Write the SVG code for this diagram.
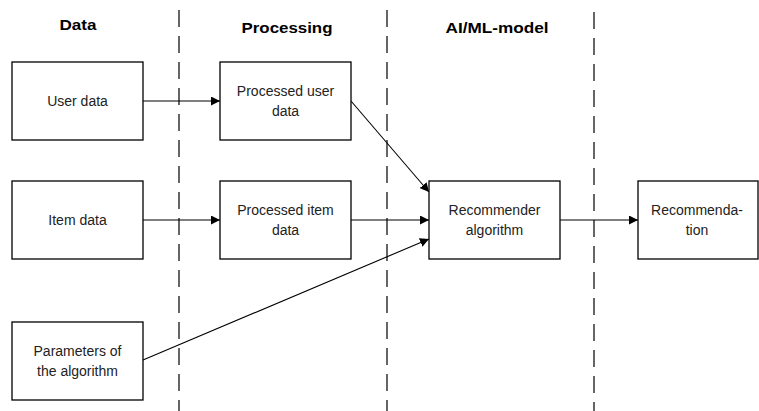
<svg xmlns="http://www.w3.org/2000/svg" width="759" height="411" viewBox="0 0 759 411">
<style>
.box{fill:#fff;stroke:#000;stroke-width:1.3}
.t{font-family:"Liberation Sans",Arial,sans-serif;font-size:14px;fill:#222;text-anchor:middle}
.h{font-family:"Liberation Sans",Arial,sans-serif;font-size:15px;font-weight:bold;fill:#000;text-anchor:middle}
.dash{stroke:#000;stroke-width:1.2;stroke-dasharray:17 9;fill:none}
.c{stroke:#000;stroke-width:1.1;fill:none;marker-end:url(#arr)}
</style>
<defs>
<marker id="arr" viewBox="0 0 10 10" refX="10" refY="5" markerWidth="9" markerHeight="9" markerUnits="userSpaceOnUse" orient="auto">
<path d="M0,0 L10,5 L0,10 z" fill="#000"/>
</marker>
</defs>
<g id="lanes">
<line class="dash" x1="179" y1="10" x2="179" y2="411"/>
<line class="dash" x1="387" y1="10" x2="387" y2="411"/>
<line class="dash" x1="594" y1="12" x2="594" y2="411"/>
<text class="h" x="78" y="30" textLength="37" lengthAdjust="spacingAndGlyphs">Data</text>
<text class="h" x="287" y="33" textLength="91" lengthAdjust="spacingAndGlyphs">Processing</text>
<text class="h" x="497" y="33" textLength="103" lengthAdjust="spacingAndGlyphs">AI/ML-model</text>
</g>
<g id="connectors">
<line class="c" x1="143" y1="101" x2="220" y2="101"/>
<line class="c" x1="143" y1="220" x2="220" y2="220"/>
<line class="c" x1="351" y1="220" x2="429" y2="220"/>
<line class="c" x1="351" y1="101" x2="429" y2="192"/>
<line class="c" x1="143" y1="360" x2="429" y2="239"/>
<line class="c" x1="560" y1="220" x2="638" y2="220"/>
</g>
<g id="user-data">
<rect class="box" x="12" y="62" width="131" height="78"/>
<text class="t" x="77.5" y="106">User data</text>
</g>
<g id="item-data">
<rect class="box" x="12" y="181" width="131" height="78"/>
<text class="t" x="77.5" y="225">Item data</text>
</g>
<g id="params">
<rect class="box" x="12" y="322" width="131" height="78"/>
<text class="t" x="77.5" y="356">Parameters of</text>
<text class="t" x="77.5" y="376">the algorithm</text>
</g>
<g id="proc-user">
<rect class="box" x="220" y="62" width="131" height="78"/>
<text class="t" x="285.5" y="96">Processed user</text>
<text class="t" x="285.5" y="116">data</text>
</g>
<g id="proc-item">
<rect class="box" x="220" y="181" width="131" height="78"/>
<text class="t" x="285.5" y="215">Processed item</text>
<text class="t" x="285.5" y="235">data</text>
</g>
<g id="recommender">
<rect class="box" x="429" y="181" width="131" height="78"/>
<text class="t" x="494.5" y="215">Recommender</text>
<text class="t" x="494.5" y="235">algorithm</text>
</g>
<g id="recommendation">
<rect class="box" x="638" y="181" width="120" height="78"/>
<text class="t" x="697" y="215">Recommenda-</text>
<text class="t" x="697" y="235">tion</text>
</g>
</svg>
